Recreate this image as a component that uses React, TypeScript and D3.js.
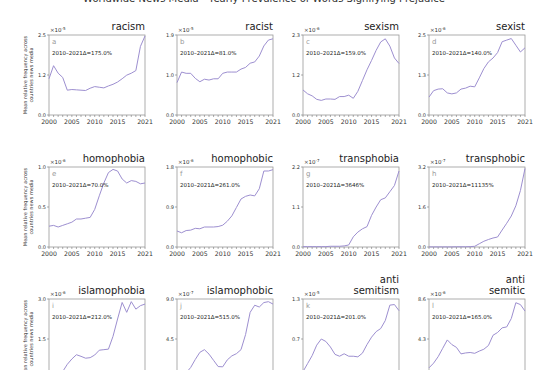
import React from 'react';
import * as d3 from 'd3';

const years = [2000, 2001, 2002, 2003, 2004, 2005, 2006, 2007, 2008, 2009, 2010,
  2011, 2012, 2013, 2014, 2015, 2016, 2017, 2018, 2019, 2020, 2021];

const racism = [1.11, 1.51, 1.28, 1.15, 0.76, 0.78, 0.77, 0.76, 0.75, 0.82, 0.87,
  0.85, 0.83, 0.89, 0.94, 1.01, 1.11, 1.22, 1.28, 1.36, 2.1, 2.42];
const racist = [0.77, 1.02, 0.99, 0.99, 0.87, 0.79, 0.85, 0.83, 0.86, 0.86, 0.99,
  1.02, 1.02, 1.02, 1.09, 1.13, 1.23, 1.26, 1.4, 1.64, 1.78, 1.81];
const sexism = [0.72, 0.61, 0.55, 0.45, 0.42, 0.46, 0.46, 0.45, 0.53, 0.53, 0.57,
  0.48, 0.68, 0.99, 1.3, 1.57, 1.86, 2.1, 2.19, 1.98, 1.64, 1.48];
const sexist = [0.56, 0.76, 0.81, 0.82, 0.69, 0.66, 0.69, 0.81, 0.84, 0.9, 0.88,
  1.16, 1.45, 1.66, 1.78, 1.95, 2.29, 2.34, 2.39, 2.18, 1.97, 2.1];
const homophobia = [0.26, 0.27, 0.25, 0.27, 0.29, 0.31, 0.35, 0.35, 0.36, 0.37, 0.47,
  0.64, 0.8, 0.93, 0.97, 0.95, 0.85, 0.8, 0.83, 0.82, 0.79, 0.8];
const homophobic = [0.36, 0.32, 0.37, 0.38, 0.42, 0.41, 0.45, 0.45, 0.45, 0.46, 0.49,
  0.58, 0.7, 0.89, 1.08, 1.14, 1.17, 1.15, 1.31, 1.71, 1.71, 1.74];
const transphobia = [0.01, 0.01, 0.01, 0.01, 0.01, 0.01, 0.02, 0.02, 0.02, 0.03, 0.056,
  0.28, 0.41, 0.5, 0.56, 0.87, 1.1, 1.3, 1.35, 1.52, 1.69, 2.09];
const transphobic = [0.005, 0.005, 0.005, 0.005, 0.005, 0.005, 0.01, 0.01, 0.01, 0.015, 0.028,
  0.13, 0.23, 0.3, 0.36, 0.4, 0.68, 0.95, 1.24, 1.65, 2.26, 3.14];
const islamophobia = [0.05, 0.08, 0.15, 0.28, 0.55, 0.75, 0.91, 0.85, 0.78, 0.8, 0.9,
  1.08, 1.1, 1.12, 1.6, 2.25, 2.87, 2.5, 2.9, 2.62, 2.75, 2.81];
const islamophobic = [0.3, 0.5, 0.7, 1.3, 2.2, 3.0, 3.3, 2.8, 2.1, 1.4, 1.37,
  2.15, 2.6, 2.85, 3.3, 5.0, 7.5, 8.3, 8.1, 8.6, 8.7, 8.43];
const antisemitism = [0.12, 0.25, 0.38, 0.55, 0.65, 0.61, 0.52, 0.4, 0.37, 0.41, 0.37,
  0.37, 0.36, 0.42, 0.56, 0.68, 0.77, 0.82, 0.95, 1.2, 1.21, 1.11];
const antisemitic = [1.2, 1.7, 2.4, 3.3, 4.2, 3.7, 3.4, 2.7, 2.8, 2.85, 2.76,
  3.0, 3.2, 3.6, 4.7, 5.0, 5.5, 5.6, 6.5, 8.2, 8.0, 7.3];

const titles = [['racism'], ['racist'], ['sexism'], ['sexist'],
  ['homophobia'], ['homophobic'], ['transphobia'], ['transphobic'],
  ['islamophobia'], ['islamophobic'], ['anti', 'semitism'], ['anti', 'semitic']];
const series = [racism, racist, sexism, sexist, homophobia, homophobic, transphobia, transphobic,
  islamophobia, islamophobic, antisemitism, antisemitic];
const letters = ['a', 'b', 'c', 'd', 'e', 'f', 'g', 'h', 'i', 'j', 'k', 'l'];
const exponents = ['-5', '-5', '-6', '-6', '-6', '-6', '-7', '-7', '-6', '-7', '-5', '-6'];
const yMaxes = [2.45, 1.9, 2.3, 2.5, 1.0, 1.8, 2.2, 3.2, 3.0, 9.0, 1.3, 8.6];
const yTickLabels = [
  ['0.0', '1.2', '2.5'], ['0.0', '1.0', '1.9'], ['0.0', '1.2', '2.3'], ['0.0', '1.3', '2.5'],
  ['0.0', '0.5', '1.0'], ['0.0', '0.9', '1.8'], ['0.0', '1.1', '2.2'], ['0.0', '1.6', '3.2'],
  ['0.0', '1.5', '3.0'], ['0.0', '4.5', '9.0'], ['0.0', '0.7', '1.3'], ['0.0', '4.3', '8.6'],
];
const deltas = ['175.0%', '81.0%', '159.0%', '140.0%', '70.0%', '261.0%', '3646%', '11135%',
  '212.0%', '515.0%', '201.0%', '165.0%'];
const xTickLabels = [2000, 2005, 2010, 2015, 2021];

const colLeft = [49, 177, 303, 429];
const rowTop = [35, 167, 299];
const W = 96;
const H = 80;
const FONT = 'DejaVu Sans, sans-serif';
const LINE = '#9d8fd0';

function Panel({ idx }: { idx: number }) {
  const x0 = colLeft[idx % 4];
  const y0 = rowTop[Math.floor(idx / 4)];
  const x = d3.scaleLinear().domain([2000, 2021]).range([x0, x0 + W]);
  const y = d3.scaleLinear().domain([0, yMaxes[idx]]).range([y0 + H, y0]);
  const line = d3.line<number>().x((d, i) => x(years[i])).y((d) => y(d));
  const yTicks = [0, yMaxes[idx] / 2, yMaxes[idx]];
  const t = titles[idx];
  return (
    <g>
      {t.map((s, k) => (
        <text key={s} x={x0 + W} y={y0 - 5 - (t.length - 1 - k) * 11} textAnchor="end"
          fontSize={10} fill="#222" fontFamily={FONT}>{s}</text>
      ))}
      <text x={x0 + 1} y={y0 - 3} fontSize={5.5} fill="#333" fontFamily={FONT}>
        ×10<tspan dy={-2} fontSize={4}>{exponents[idx]}</tspan>
      </text>
      <rect x={x0} y={y0} width={W} height={H} fill="none" stroke="#999" strokeWidth={0.8} />
      {years.map((yr) => (
        <line key={yr} x1={x(yr)} x2={x(yr)} y1={y0 + H} y2={y0 + H + 2} stroke="#777" strokeWidth={0.6} />
      ))}
      {xTickLabels.map((yr) => (
        <text key={yr} x={x(yr)} y={y0 + H + 9} textAnchor="middle" fontSize={6.2}
          fill="#333" fontFamily={FONT}>{yr}</text>
      ))}
      {yTicks.map((v, k) => (
        <g key={k}>
          <line x1={x0 - 2} x2={x0} y1={y(v)} y2={y(v)} stroke="#777" strokeWidth={0.6} />
          <text x={x0 - 3} y={y(v) + 2} textAnchor="end" fontSize={5} fill="#333"
            fontFamily={FONT}>{yTickLabels[idx][k]}</text>
        </g>
      ))}
      <path d={line(series[idx]) || ''} fill="none" stroke={LINE} strokeWidth={1} />
      <text x={x0 + 3} y={y0 + 9} fontSize={7} fill="#999" fontFamily={FONT}>{letters[idx]}</text>
      <text x={x0 + 3} y={y0 + 20} fontSize={5.5} fill="#222" fontFamily={FONT}>
        {`2010–2021Δ=${deltas[idx]}`}
      </text>
    </g>
  );
}

export default function App() {
  return (
    <svg width={555} height={370} style={{ position: 'absolute', left: 0, top: 0, background: '#fff' }}>
      <text x={264} y={2} textAnchor="middle" fontSize={10} fill="#333" fontFamily={FONT}>
        Worldwide News Media - Yearly Prevalence of Words Signifying Prejudice
      </text>
      {rowTop.map((ry) => (
        <text key={ry} transform={`translate(27,${ry + H / 2}) rotate(-90)`} textAnchor="middle"
          fontSize={5} fill="#333" fontFamily={FONT}>
          <tspan x={0} dy={0}>Mean relative frequency across</tspan>
          <tspan x={0} dy={6}>countries news media</tspan>
        </text>
      ))}
      {series.map((_, i) => <Panel key={i} idx={i} />)}
    </svg>
  );
}
